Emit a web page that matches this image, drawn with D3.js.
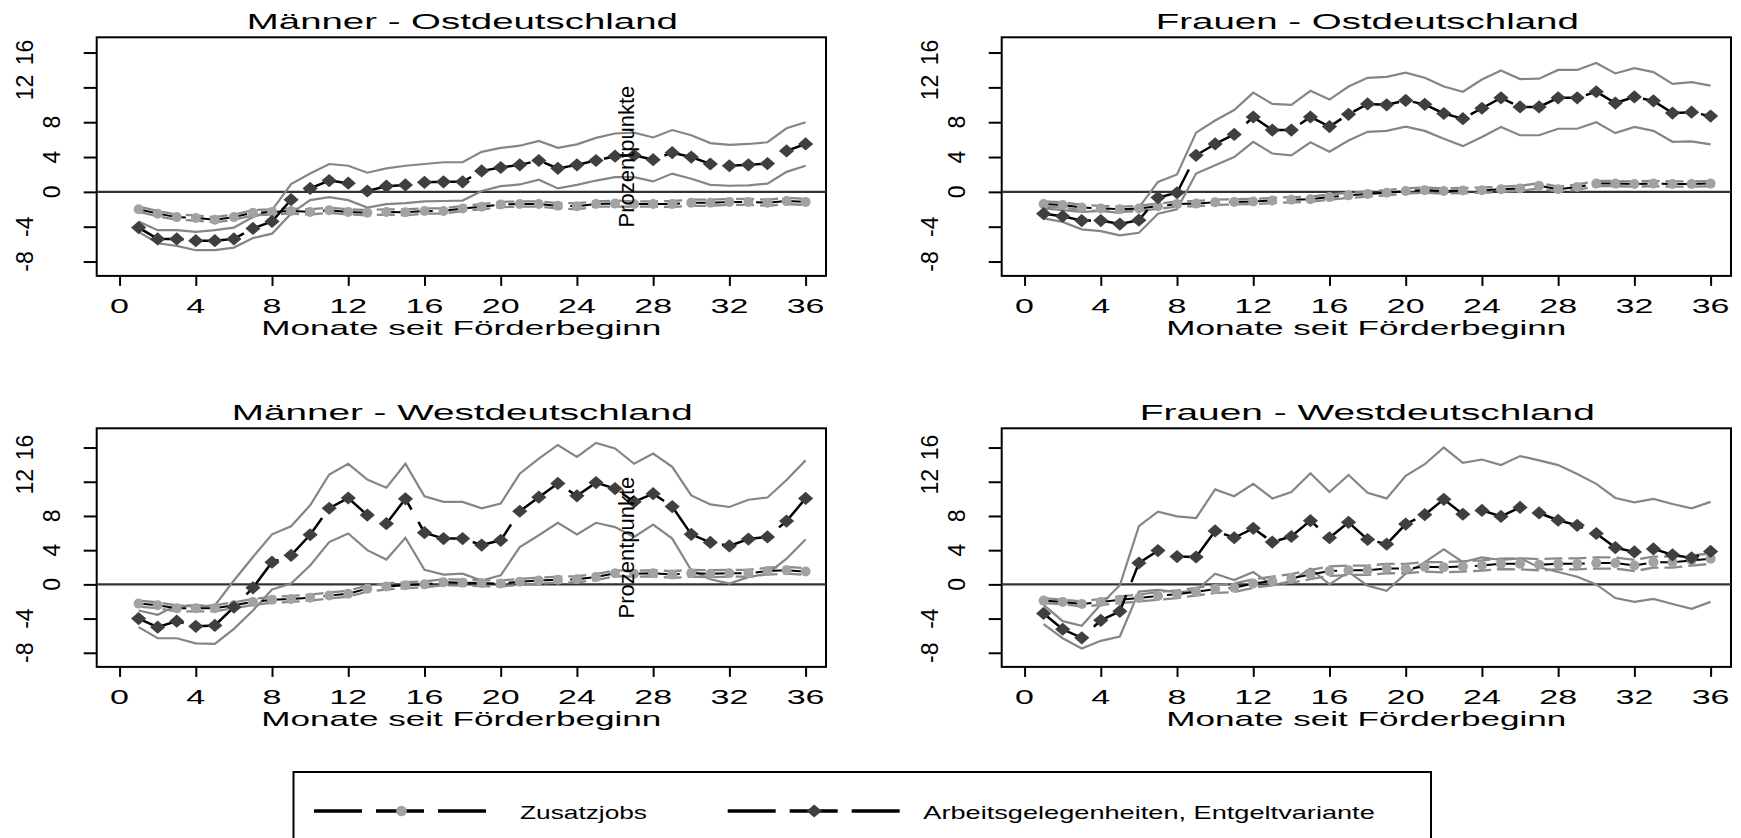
<!DOCTYPE html>
<html>
<head>
<meta charset="utf-8">
<script src="https://cdn.jsdelivr.net/npm/d3@7"></script>
<style>
  body { margin: 0; background: #fff; }
  svg { display: block; }
</style>
</head>
<body>
<div id="chart"></div>
<script>
// data
const months = [1, 2, 3, 4, 5, 6, 7, 8, 9, 10, 11, 12, 13, 14, 15, 16, 17, 18,
  19, 20, 21, 22, 23, 24, 25, 26, 27, 28, 29, 30, 31, 32, 33, 34, 35, 36];
const xTicks = [0, 4, 8, 12, 16, 20, 24, 28, 32, 36];
const yTicks = [-8, -4, 0, 4, 8, 12, 16];
const panelTitles = ['Männer - Ostdeutschland', 'Frauen - Ostdeutschland',
  'Männer - Westdeutschland', 'Frauen - Westdeutschland'];
const xTitle = 'Monate seit Förderbeginn';
const yTitle = 'Prozentpunkte';
const seriesNames = ['Zusatzjobs', 'Arbeitsgelegenheiten, Entgeltvariante'];

// Männer - Ostdeutschland
const zjMO = [-2.0, -2.5, -2.9, -3.0, -3.2, -2.9, -2.4, -2.3, -2.2, -2.3, -2.1, -2.3, -2.4, -2.3, -2.35, -2.2, -2.2, -1.9,
  -1.7, -1.45, -1.4, -1.4, -1.6, -1.65, -1.4, -1.35, -1.4, -1.4, -1.4, -1.25, -1.25, -1.15, -1.15, -1.25, -1.05, -1.15];
const zjMOHi = [-1.7, -2.2, -2.6, -2.7, -2.9, -2.6, -2.1, -2.0, -1.9, -2.0, -1.8, -2.0, -2.1, -2.0, -2.0, -1.9, -1.9, -1.6,
  -1.4, -1.15, -1.1, -1.1, -1.3, -1.3, -1.1, -1.0, -1.1, -1.1, -1.05, -0.9, -0.9, -0.8, -0.8, -0.9, -0.7, -0.8];
const zjMOLo = [-2.3, -2.8, -3.2, -3.3, -3.5, -3.2, -2.7, -2.6, -2.5, -2.6, -2.4, -2.6, -2.7, -2.6, -2.7, -2.5, -2.5, -2.2,
  -2.0, -1.75, -1.7, -1.7, -1.9, -2.0, -1.7, -1.7, -1.7, -1.7, -1.75, -1.6, -1.6, -1.5, -1.5, -1.6, -1.4, -1.5];
const aghMO = [-4.1, -5.4, -5.4, -5.6, -5.6, -5.4, -4.2, -3.4, -0.9, 0.4, 1.3, 1.0, 0.1, 0.65, 0.8, 1.1, 1.15, 1.15,
  2.4, 2.8, 3.1, 3.6, 2.7, 3.1, 3.6, 4.1, 4.2, 3.7, 4.5, 4.0, 3.2, 3.0, 3.1, 3.25, 4.7, 5.5];
const aghMOHi = [-3.4, -4.4, -4.4, -4.6, -4.4, -4.1, -2.9, -2.1, 0.9, 2.1, 3.2, 3.0, 2.2, 2.7, 3.0, 3.2, 3.4, 3.4,
  4.6, 5.05, 5.3, 5.85, 5.05, 5.45, 6.2, 6.7, 6.8, 6.25, 7.1, 6.5, 5.6, 5.4, 5.5, 5.7, 7.3, 8.0];
const aghMOLo = [-4.6, -5.9, -6.2, -6.7, -6.7, -6.4, -5.3, -4.8, -2.5, -0.95, -0.6, -0.95, -1.8, -1.4, -1.3, -1.1, -1.05, -1.0,
  0.1, 0.65, 0.85, 1.4, 0.4, 0.8, 1.3, 1.7, 1.7, 1.2, 2.1, 1.5, 0.8, 0.7, 0.75, 0.95, 2.3, 3.0];

// Frauen - Ostdeutschland
const zjFO = [-1.4, -1.5, -1.8, -1.9, -2.0, -1.9, -1.65, -1.4, -1.35, -1.2, -1.15, -1.1, -1.0, -0.9, -0.85, -0.6, -0.4, -0.25,
  -0.1, 0.1, 0.2, 0.1, 0.15, 0.2, 0.3, 0.4, 0.7, 0.3, 0.55, 0.95, 0.95, 0.9, 0.95, 0.9, 0.9, 0.95];
const zjFOHi = [-1.1, -1.2, -1.5, -1.6, -1.7, -1.6, -1.35, -1.1, -1.05, -0.9, -0.85, -0.8, -0.7, -0.6, -0.55, -0.3, -0.1, 0.05,
  0.2, 0.4, 0.5, 0.4, 0.45, 0.5, 0.6, 0.7, 1.0, 0.6, 0.85, 1.25, 1.25, 1.2, 1.25, 1.2, 1.2, 1.25];
const zjFOLo = [-1.7, -1.8, -2.1, -2.2, -2.3, -2.2, -1.95, -1.7, -1.65, -1.5, -1.45, -1.4, -1.3, -1.2, -1.15, -0.9, -0.7, -0.55,
  -0.4, -0.2, -0.1, -0.2, -0.15, -0.1, 0.0, 0.1, 0.4, 0.0, 0.25, 0.65, 0.65, 0.6, 0.65, 0.6, 0.6, 0.65];
const aghFO = [-2.5, -2.8, -3.3, -3.3, -3.7, -3.25, -0.65, -0.1, 4.2, 5.5, 6.6, 8.6, 7.1, 7.1, 8.6, 7.5, 8.9, 10.1,
  10.0, 10.5, 10.05, 9.0, 8.4, 9.6, 10.8, 9.75, 9.75, 10.8, 10.8, 11.5, 10.2, 10.9, 10.45, 9.05, 9.15, 8.7];
const aghFOHi = [-1.9, -2.1, -2.3, -2.2, -2.4, -1.8, 1.15, 2.0, 6.8, 8.2, 9.4, 11.4, 10.1, 10.0, 11.6, 10.6, 12.1, 13.1,
  13.2, 13.7, 13.1, 12.1, 11.5, 12.9, 13.95, 12.95, 13.0, 14.0, 14.0, 14.8, 13.6, 14.2, 13.75, 12.4, 12.6, 12.2];
const aghFOLo = [-3.05, -3.45, -4.3, -4.5, -5.0, -4.7, -2.5, -2.0, 2.1, 3.05, 4.0, 5.75, 4.4, 4.2, 5.7, 4.6, 5.9, 6.9,
  7.0, 7.5, 7.0, 6.1, 5.25, 6.3, 7.45, 6.5, 6.5, 7.25, 7.25, 8.0, 6.75, 7.45, 7.0, 5.75, 5.8, 5.45];

// Männer - Westdeutschland
const zjMW = [-2.25, -2.45, -2.8, -2.8, -2.8, -2.45, -2.05, -1.8, -1.7, -1.55, -1.3, -1.1, -0.5, -0.25, -0.1, 0.0, 0.25, 0.2,
  0.15, 0.1, 0.3, 0.45, 0.55, 0.6, 0.85, 1.3, 1.25, 1.3, 1.15, 1.3, 1.25, 1.3, 1.3, 1.55, 1.65, 1.5];
const zjMWHi = [-1.9, -2.1, -2.45, -2.45, -2.45, -2.1, -1.7, -1.45, -1.35, -1.2, -0.95, -0.75, -0.15, 0.1, 0.25, 0.35, 0.6, 0.55,
  0.5, 0.45, 0.65, 0.8, 0.9, 0.95, 1.2, 1.65, 1.6, 1.65, 1.55, 1.7, 1.65, 1.7, 1.7, 1.95, 2.05, 1.9];
const zjMWLo = [-2.6, -2.8, -3.15, -3.15, -3.15, -2.8, -2.4, -2.15, -2.05, -1.9, -1.65, -1.45, -0.85, -0.6, -0.45, -0.35, -0.1, -0.15,
  -0.2, -0.25, -0.05, 0.1, 0.2, 0.25, 0.5, 0.95, 0.9, 0.95, 0.75, 0.9, 0.85, 0.9, 0.9, 1.15, 1.25, 1.1];
const aghMW = [-4.0, -5.0, -4.3, -4.9, -4.8, -2.65, -0.4, 2.6, 3.4, 5.8, 8.9, 10.1, 8.1, 7.1, 10.0, 6.05, 5.35, 5.35,
  4.6, 5.15, 8.55, 10.2, 11.8, 10.35, 11.9, 11.2, 9.65, 10.6, 9.1, 5.85, 4.9, 4.5, 5.3, 5.55, 7.4, 10.05];
const aghMWHi = [-3.05, -3.55, -2.45, -2.6, -2.45, 0.45, 3.2, 5.85, 6.8, 9.25, 12.85, 14.1, 12.25, 11.3, 14.1, 10.3, 9.65, 9.65,
  8.9, 9.45, 12.95, 14.7, 16.3, 14.9, 16.55, 15.9, 14.1, 15.3, 13.75, 10.4, 9.35, 9.05, 9.9, 10.15, 12.2, 14.5];
const aghMWLo = [-5.0, -6.3, -6.3, -6.9, -6.95, -5.2, -3.05, -0.6, 0.1, 2.2, 4.95, 5.95, 4.0, 2.9, 5.45, 1.7, 1.15, 1.25,
  0.45, 1.05, 4.35, 5.75, 7.2, 5.85, 7.2, 6.7, 5.55, 7.0, 5.35, 1.65, 0.6, 0.1, 0.85, 1.25, 3.0, 5.25];

// Frauen - Westdeutschland
const zjFW = [-1.9, -2.05, -2.3, -2.05, -1.8, -1.6, -1.35, -1.15, -0.85, -0.55, -0.4, 0.1, 0.4, 0.7, 1.15, 1.55, 1.65, 1.65,
  1.85, 1.85, 2.05, 2.0, 2.1, 2.2, 2.4, 2.4, 2.3, 2.4, 2.4, 2.5, 2.5, 2.2, 2.6, 2.6, 2.8, 3.0];
const zjFWHi = [-1.6, -1.8, -2.0, -1.7, -1.4, -1.2, -0.9, -0.7, -0.4, -0.1, 0.1, 0.6, 0.9, 1.2, 1.7, 2.1, 2.2, 2.2,
  2.4, 2.4, 2.6, 2.6, 2.7, 2.8, 3.0, 3.05, 2.95, 3.05, 3.05, 3.15, 3.15, 2.85, 3.25, 3.25, 3.4, 3.6];
const zjFWLo = [-2.2, -2.3, -2.6, -2.4, -2.2, -2.0, -1.8, -1.6, -1.3, -1.0, -0.9, -0.4, -0.1, 0.2, 0.6, 1.0, 1.1, 1.1,
  1.3, 1.3, 1.5, 1.4, 1.5, 1.6, 1.8, 1.75, 1.65, 1.75, 1.75, 1.85, 1.85, 1.55, 1.95, 1.95, 2.2, 2.4];
const aghFW = [-3.4, -5.25, -6.25, -4.2, -3.15, 2.5, 3.95, 3.25, 3.2, 6.25, 5.45, 6.55, 4.95, 5.6, 7.45, 5.45, 7.25, 5.25,
  4.7, 7.05, 8.15, 9.95, 8.2, 8.65, 7.95, 9.0, 8.35, 7.5, 6.9, 5.95, 4.3, 3.8, 4.15, 3.45, 3.1, 3.85];
const aghFWHi = [-2.4, -4.3, -4.85, -2.35, -0.1, 6.8, 8.5, 7.95, 7.75, 11.1, 10.3, 11.75, 10.05, 10.8, 13.0, 10.8, 12.8, 10.7,
  10.05, 12.7, 14.05, 16.0, 14.2, 14.6, 13.95, 15.0, 14.5, 13.95, 12.9, 11.75, 10.1, 9.6, 10.0, 9.4, 8.9, 9.65];
const aghFWLo = [-4.65, -6.3, -7.5, -6.6, -6.1, -0.85, -0.65, -0.9, -0.75, 1.25, 0.5, 1.45, -0.1, 0.4, 1.85, 0.0, 1.45, -0.15,
  -0.75, 1.25, 2.6, 4.1, 2.6, 3.15, 2.85, 3.05, 2.0, 1.45, 0.9, 0.0, -1.6, -2.05, -1.7, -2.3, -2.85, -2.05];

const panels = [
  {title: panelTitles[0], zj: zjMO, zjLo: zjMOLo, zjHi: zjMOHi, agh: aghMO, aghLo: aghMOLo, aghHi: aghMOHi},
  {title: panelTitles[1], zj: zjFO, zjLo: zjFOLo, zjHi: zjFOHi, agh: aghFO, aghLo: aghFOLo, aghHi: aghFOHi},
  {title: panelTitles[2], zj: zjMW, zjLo: zjMWLo, zjHi: zjMWHi, agh: aghMW, aghLo: aghMWLo, aghHi: aghMWHi},
  {title: panelTitles[3], zj: zjFW, zjLo: zjFWLo, zjHi: zjFWHi, agh: aghFW, aghLo: aghFWLo, aghHi: aghFWHi}
];

// layout
const FONT = '"Liberation Sans", Arial, Helvetica, sans-serif';
const option = {
  width: 1741,
  height: 838,
  boxW: 729.3,
  boxH: 238.6,
  xDomain: [-1.2, 37.07],
  yMin: -9.65
};
const layout = [
  {left: 96.7, top: 37.3, yMax: 17.75, titleW: 431, yTitle: true},
  {left: 1001.7, top: 37.3, yMax: 17.75, titleW: 423, yTitle: false},
  {left: 96.7, top: 428.3, yMax: 18.25, titleW: 461, yTitle: true},
  {left: 1001.7, top: 428.3, yMax: 18.25, titleW: 455, yTitle: false}
];

const Painter = {};

Painter.container = () => {
  return d3.select('#chart')
      .append('svg')
      .attr('width', option.width)
      .attr('height', option.height)
      .attr('font-family', FONT);
};

Painter.diamond = 'M0,-6.6L7.6,0L0,6.6L-7.6,0Z';

Painter.panel = (svg, p, L) => {
  const g = svg.append('g');
  const x = d3.scaleLinear()
      .domain(option.xDomain)
      .range([L.left, L.left + option.boxW]);
  const y = d3.scaleLinear()
      .domain([option.yMin, L.yMax])
      .range([L.top + option.boxH, L.top]);
  const bottom = L.top + option.boxH;

  // axes (ticks only, labels drawn by hand because they are stretched)
  g.append('g')
      .attr('transform', `translate(${L.left},0)`)
      .call(d3.axisLeft(y).tickValues(yTicks).tickSize(13).tickFormat(''))
      .call((a) => a.select('.domain').remove());
  g.append('g')
      .attr('transform', `translate(0,${bottom})`)
      .call(d3.axisBottom(x).tickValues(xTicks).tickSize(10).tickFormat(''))
      .call((a) => a.select('.domain').remove());
  g.selectAll('.tick line').attr('stroke', '#000').attr('stroke-width', 2);

  g.append('g')
      .selectAll('text')
      .data(yTicks)
      .join('text')
      .attr('transform', (d) =>
        `translate(${L.left - (String(d).length > 1 ? 64 : 37)},${y(d)}) rotate(-90)`)
      .attr('text-anchor', 'middle')
      .attr('font-size', 23)
      .text((d) => d);

  g.append('g')
      .selectAll('text')
      .data(xTicks)
      .join('text')
      .attr('transform', (d) => `translate(${x(d)},${bottom + 37.5}) scale(1.7,1)`)
      .attr('text-anchor', 'middle')
      .attr('font-size', 20)
      .text((d) => d);

  g.append('text')
      .attr('x', L.left + option.boxW / 2 - 200)
      .attr('y', bottom + 59)
      .attr('font-size', 21)
      .attr('textLength', 400)
      .attr('lengthAdjust', 'spacingAndGlyphs')
      .text(xTitle);

  g.append('text')
      .attr('x', L.left + option.boxW / 2 + 1 - L.titleW / 2)
      .attr('y', L.top - 8)
      .attr('font-size', 22.5)
      .attr('textLength', L.titleW)
      .attr('lengthAdjust', 'spacingAndGlyphs')
      .text(p.title);

  // frame and zero line
  g.append('rect')
      .attr('x', L.left)
      .attr('y', L.top)
      .attr('width', option.boxW)
      .attr('height', option.boxH)
      .attr('fill', 'none')
      .attr('stroke', '#000')
      .attr('stroke-width', 2);
  g.append('line')
      .attr('x1', L.left)
      .attr('x2', L.left + option.boxW)
      .attr('y1', y(0))
      .attr('y2', y(0))
      .attr('stroke', '#333')
      .attr('stroke-width', 2.2);

  const line = d3.line()
      .x((d, i) => x(months[i]))
      .y((d) => y(d));

  // confidence bands
  [p.aghHi, p.aghLo].forEach((s) => {
    g.append('path')
        .attr('d', line(s))
        .attr('fill', 'none')
        .attr('stroke', '#858585')
        .attr('stroke-width', 2.2);
  });
  [p.zjHi, p.zjLo].forEach((s) => {
    g.append('path')
        .attr('d', line(s))
        .attr('fill', 'none')
        .attr('stroke', '#8a8a8a')
        .attr('stroke-width', 2.3)
        .attr('stroke-dasharray', '18,6');
  });

  // Zusatzjobs
  g.append('path')
      .attr('d', line(p.zj))
      .attr('fill', 'none')
      .attr('stroke', '#000')
      .attr('stroke-width', 2)
      .attr('stroke-dasharray', '48,14');
  g.append('g')
      .selectAll('circle')
      .data(p.zj)
      .join('circle')
      .attr('cx', (d, i) => x(months[i]))
      .attr('cy', (d) => y(d))
      .attr('r', 5)
      .attr('fill', '#a2a2a2');

  // Arbeitsgelegenheiten, Entgeltvariante
  g.append('path')
      .attr('d', line(p.agh))
      .attr('fill', 'none')
      .attr('stroke', '#000')
      .attr('stroke-width', 2.5)
      .attr('stroke-dasharray', '48,14');
  g.append('g')
      .selectAll('path')
      .data(p.agh)
      .join('path')
      .attr('d', Painter.diamond)
      .attr('transform', (d, i) => `translate(${x(months[i])},${y(d)})`)
      .attr('fill', '#3f3f3f');

  if (L.yTitle) {
    g.append('text')
        .attr('transform', `translate(634,${L.top + option.boxH / 2}) rotate(-90)`)
        .attr('text-anchor', 'middle')
        .attr('font-size', 22)
        .text(yTitle);
  }
};

Painter.legend = (svg) => {
  const g = svg.append('g');
  const ly = 811;
  g.append('rect')
      .attr('x', 293.5)
      .attr('y', 772)
      .attr('width', 1137.5)
      .attr('height', 120)
      .attr('fill', 'none')
      .attr('stroke', '#000')
      .attr('stroke-width', 2);

  const keys = [
    {x0: 314, marker: 'circle', textX: 520, textW: 127},
    {x0: 727.7, marker: 'diamond', textX: 923.3, textW: 451.5}
  ];
  keys.forEach((k, i) => {
    g.append('line')
        .attr('x1', k.x0)
        .attr('x2', k.x0 + 174)
        .attr('y1', ly)
        .attr('y2', ly)
        .attr('stroke', '#000')
        .attr('stroke-width', 3.3)
        .attr('stroke-dasharray', '48,14');
    if (k.marker === 'circle') {
      g.append('circle')
          .attr('cx', k.x0 + 87.5)
          .attr('cy', ly)
          .attr('r', 5.3)
          .attr('fill', '#a2a2a2');
    } else {
      g.append('path')
          .attr('d', Painter.diamond)
          .attr('transform', `translate(${k.x0 + 86.5},${ly})`)
          .attr('fill', '#3f3f3f');
    }
    g.append('text')
        .attr('x', k.textX)
        .attr('y', ly + 7.5)
        .attr('font-size', 18.5)
        .attr('textLength', k.textW)
        .attr('lengthAdjust', 'spacingAndGlyphs')
        .text(seriesNames[i]);
  });
};

const svg = Painter.container();
panels.forEach((p, i) => Painter.panel(svg, p, layout[i]));
Painter.legend(svg);
</script>
</body>
</html>
